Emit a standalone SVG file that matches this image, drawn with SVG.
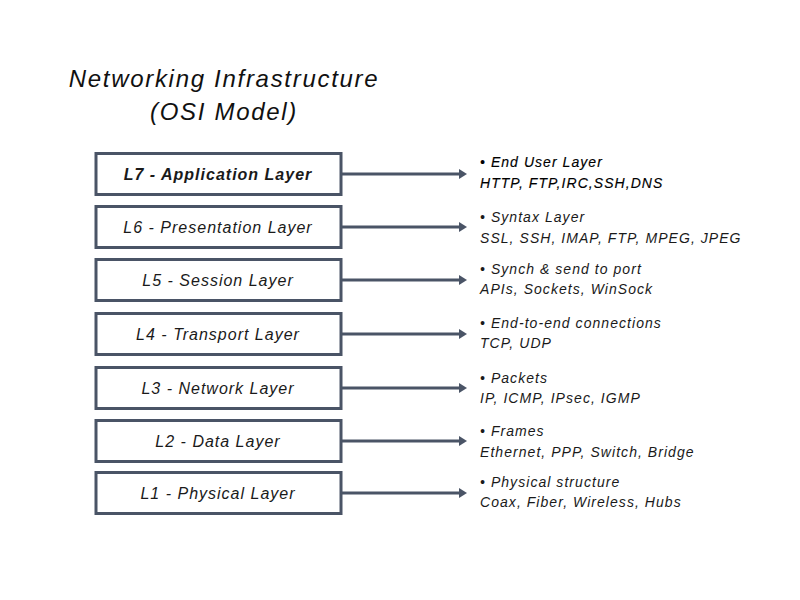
<svg xmlns="http://www.w3.org/2000/svg" width="800" height="600" viewBox="0 0 800 600">
<defs>
<style>
.box{fill:#fff;stroke:#4a5466;stroke-width:3}
.lbl{font-family:"Liberation Sans",Arial,sans-serif;font-style:italic;font-size:16px;letter-spacing:1px;fill:#1a1a1a;text-anchor:middle}
.b{font-weight:bold}
.info{font-family:"Liberation Sans",Arial,sans-serif;font-style:italic;font-size:14px;letter-spacing:1.05px;fill:#1a1a1a}
.info.dark{fill:#000;stroke:#000;stroke-width:0.15}
.title{font-family:"Liberation Sans",Arial,sans-serif;font-style:italic;font-size:24px;letter-spacing:1.7px;fill:#111;text-anchor:middle}
.conn{stroke:#4a5466;stroke-width:3;fill:none;marker-end:url(#ah)}
</style>
<marker id="ah" markerWidth="8" markerHeight="10" refX="1" refY="5" orient="auto" markerUnits="userSpaceOnUse" viewBox="0 0 8 10">
<path d="M0,0 L8,5 L0,10 Z" fill="#4a5466"/>
</marker>
</defs>
<rect width="800" height="600" fill="#fff"/>
<g id="title">
<text class="title" x="224" y="87">Networking Infrastructure</text>
<text class="title" x="224" y="120">(OSI Model)</text>
</g>
<g id="connectors">
<line class="conn" x1="342" y1="174" x2="460" y2="174"/>
<line class="conn" x1="342" y1="227" x2="460" y2="227"/>
<line class="conn" x1="342" y1="280" x2="460" y2="280"/>
<line class="conn" x1="342" y1="334" x2="460" y2="334"/>
<line class="conn" x1="342" y1="388" x2="460" y2="388"/>
<line class="conn" x1="342" y1="441" x2="460" y2="441"/>
<line class="conn" x1="342" y1="493" x2="460" y2="493"/>
</g>
<g id="L7"><rect class="box" x="96" y="153.5" width="245" height="41"/><text class="lbl b" x="218" y="180">L7 - Application Layer</text></g>
<g id="L6"><rect class="box" x="96" y="206.5" width="245" height="41"/><text class="lbl" x="218" y="233">L6 - Presentation Layer</text></g>
<g id="L5"><rect class="box" x="96" y="259.5" width="245" height="41"/><text class="lbl" x="218" y="286">L5 - Session Layer</text></g>
<g id="L4"><rect class="box" x="96" y="313.5" width="245" height="41"/><text class="lbl" x="218" y="340">L4 - Transport Layer</text></g>
<g id="L3"><rect class="box" x="96" y="367.5" width="245" height="41"/><text class="lbl" x="218" y="394">L3 - Network Layer</text></g>
<g id="L2"><rect class="box" x="96" y="420.5" width="245" height="41"/><text class="lbl" x="218" y="447">L2 - Data Layer</text></g>
<g id="L1"><rect class="box" x="96" y="472.5" width="245" height="41"/><text class="lbl" x="218" y="499">L1 - Physical Layer</text></g>
<g id="info7"><text class="info dark" x="480" y="167">• End User Layer</text><text class="info dark" x="480" y="188">HTTP, FTP,IRC,SSH,DNS</text></g>
<g id="info6"><text class="info" x="480" y="222">• Syntax Layer</text><text class="info" x="480" y="243">SSL, SSH, IMAP, FTP, MPEG, JPEG</text></g>
<g id="info5"><text class="info" x="480" y="274">• Synch &amp; send to port</text><text class="info" x="480" y="294">APIs, Sockets, WinSock</text></g>
<g id="info4"><text class="info" x="480" y="328">• End-to-end connections</text><text class="info" x="480" y="348">TCP, UDP</text></g>
<g id="info3"><text class="info" x="480" y="383">• Packets</text><text class="info" x="480" y="403">IP, ICMP, IPsec, IGMP</text></g>
<g id="info2"><text class="info" x="480" y="436">• Frames</text><text class="info" x="480" y="457">Ethernet, PPP, Switch, Bridge</text></g>
<g id="info1"><text class="info" x="480" y="487">• Physical structure</text><text class="info" x="480" y="507">Coax, Fiber, Wireless, Hubs</text></g>
</svg>
